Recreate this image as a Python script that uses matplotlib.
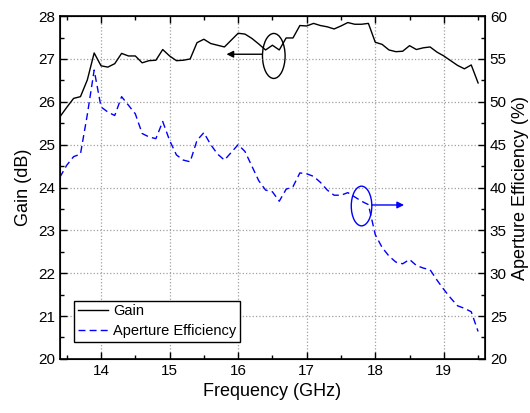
"""Gain and aperture efficiency versus frequency (dual y-axis)."""

import matplotlib
matplotlib.use('Agg')
import matplotlib.pyplot as plt
from matplotlib.patches import Ellipse
from matplotlib.ticker import MultipleLocator

plt.rcParams.update({
    'font.family': ['Liberation Sans', 'DejaVu Sans'],
    'font.size': 11,
    'xtick.direction': 'in',
    'ytick.direction': 'in',
})

# frequency samples (GHz)
freq = [13.4, 13.5, 13.6, 13.7, 13.8, 13.9, 14.0, 14.1, 14.2, 14.3,
        14.4, 14.5, 14.6, 14.7, 14.8, 14.9, 15.0, 15.1, 15.2, 15.3,
        15.4, 15.5, 15.6, 15.7, 15.8, 15.9, 16.0, 16.1, 16.2, 16.3,
        16.4, 16.5, 16.6, 16.7, 16.8, 16.9, 17.0, 17.1, 17.2, 17.3,
        17.4, 17.5, 17.6, 17.7, 17.8, 17.9, 18.0, 18.1, 18.2, 18.3,
        18.4, 18.5, 18.6, 18.7, 18.8, 18.9, 19.0, 19.1, 19.2, 19.3,
        19.4, 19.5]

# gain (dB)
gain = [25.65, 25.87, 26.08, 26.12, 26.51, 27.14, 26.84, 26.81, 26.89, 27.13,
        27.07, 27.07, 26.91, 26.96, 26.97, 27.22, 27.07, 26.96, 26.97, 27.00,
        27.38, 27.46, 27.36, 27.32, 27.28, 27.44, 27.60, 27.58, 27.48, 27.35,
        27.21, 27.32, 27.21, 27.49, 27.49, 27.78, 27.77, 27.83, 27.78, 27.75,
        27.70, 27.77, 27.85, 27.81, 27.81, 27.83, 27.39, 27.34, 27.21, 27.17,
        27.18, 27.31, 27.22, 27.26, 27.28, 27.16, 27.07, 26.96, 26.85, 26.77,
        26.86, 26.44]

# aperture efficiency (%)
eff = [41.2, 42.6, 43.6, 43.9, 48.5, 53.7, 49.4, 48.8, 48.4, 50.6,
       49.6, 48.6, 46.3, 45.9, 45.7, 47.7, 45.5, 43.8, 43.2, 43.0,
       45.5, 46.4, 45.0, 43.9, 43.2, 44.1, 45.0, 44.2, 42.5, 40.8,
       39.7, 39.5, 38.4, 39.8, 40.1, 41.7, 41.6, 41.3, 40.6, 39.7,
       39.1, 39.1, 39.4, 38.9, 38.4, 38.0, 34.5, 33.0, 32.0, 31.3,
       31.1, 31.6, 30.9, 30.6, 30.4, 29.2, 28.1, 27.1, 26.2, 25.9,
       25.5, 23.2]

fig = plt.figure(figsize=(5.30, 4.13), dpi=100)
ax = fig.add_axes([0.113, 0.131, 0.802, 0.830])
ax2 = ax.twinx()

l1, = ax.plot(freq, gain, color='black', lw=1.0, label='Gain')
l2, = ax2.plot(freq, eff, color='#0000ff', lw=1.0, ls=(0, (5, 3)),
               label='Aperture Efficiency')

ax.set_xlim(13.4, 19.6)
ax.set_ylim(20, 28)
ax2.set_ylim(20, 60)

ax.xaxis.set_major_locator(MultipleLocator(1))
ax.xaxis.set_minor_locator(MultipleLocator(0.5))
ax.yaxis.set_major_locator(MultipleLocator(1))
ax.yaxis.set_minor_locator(MultipleLocator(0.5))
ax2.yaxis.set_major_locator(MultipleLocator(5))
ax2.yaxis.set_minor_locator(MultipleLocator(2.5))

ax.tick_params(which='both', top=True, right=False, labelsize=11, width=1.0)
ax.tick_params(which='major', length=5)
ax.tick_params(which='minor', length=3)
ax2.tick_params(which='both', labelsize=11, width=1.0)
ax2.tick_params(which='major', length=5)
ax2.tick_params(which='minor', length=3)

ax.grid(True, which='major', color='#a0a0a0', ls=':', lw=0.9)

for sp in ax2.spines.values():
    sp.set_linewidth(1.2)

ax.set_xlabel('Frequency (GHz)', fontsize=13)
ax.set_ylabel('Gain (dB)', fontsize=13)
ax2.set_ylabel('Aperture Efficiency (%)', fontsize=13)

# black ellipse + arrow pointing to gain axis
ax.add_patch(Ellipse((16.52, 27.07), 0.33, 1.05, fill=False,
                     edgecolor='black', lw=1.0))
ax.annotate('', xy=(15.83, 27.11), xytext=(16.35, 27.11),
            arrowprops=dict(arrowstyle='-|>', color='black', lw=1.0,
                            mutation_scale=10, shrinkA=0, shrinkB=0))

# blue ellipse + arrow pointing to efficiency axis
ax2.add_patch(Ellipse((17.80, 37.84), 0.30, 4.63, fill=False,
                      edgecolor='#0000ff', lw=1.0))
ax2.annotate('', xy=(18.42, 37.96), xytext=(17.95, 37.96),
             arrowprops=dict(arrowstyle='-|>', color='#0000ff', lw=1.0,
                             mutation_scale=10, shrinkA=0, shrinkB=0))

leg = ax2.legend(handles=[l1, l2], loc='lower left',
                 bbox_to_anchor=(0.033, 0.05), borderaxespad=0,
                 fontsize=10.5, fancybox=False, framealpha=1,
                 edgecolor='black', handlelength=2.1, handletextpad=0.35,
                 borderpad=0.25, labelspacing=0.4)
leg.get_frame().set_linewidth(1.0)

fig.savefig('out.png', dpi=100)
